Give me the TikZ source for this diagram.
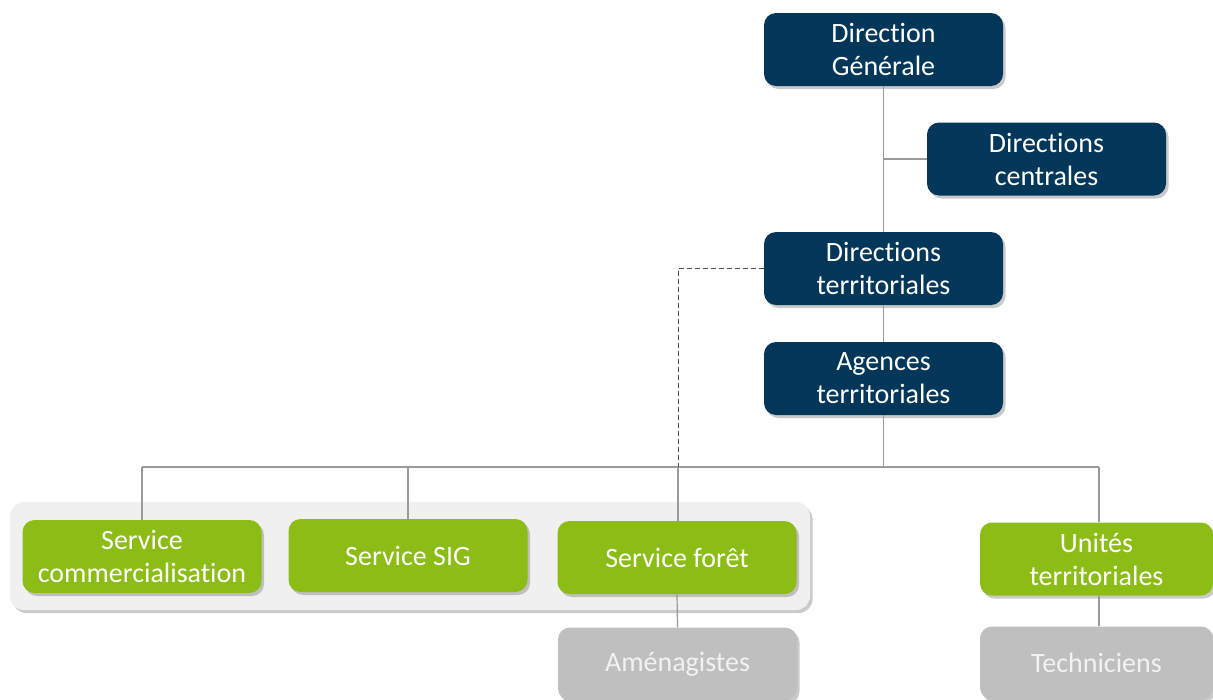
\documentclass[tikz,border=0pt]{standalone}
\usepackage{fontspec}
\setmainfont[Ligatures=NoCommon]{Carlito}
\usetikzlibrary{shadows}
\definecolor{navy}{HTML}{03375A}
\definecolor{leaf}{HTML}{8CBD16}
\definecolor{mute}{HTML}{BFBFBF}
\definecolor{panel}{HTML}{F0F0F0}
\definecolor{wire}{HTML}{9A9A9A}
\tikzset{
  box/.style={rounded corners=12pt, minimum width=239pt, minimum height=73pt,
    inner sep=0pt, align=center, text=white,
    font=\fontsize{28pt}{33pt}\selectfont,
    drop shadow={shadow xshift=2.5pt, shadow yshift=-3pt, opacity=0.35, fill=black!60}},
  navybox/.style={box, fill=navy},
  leafbox/.style={box, fill=leaf},
  mutebox/.style={box, fill=mute, text=white!95!black},
  wireline/.style={draw=wire, line width=1.2pt},
}
\begin{document}
\begin{tikzpicture}[x=1pt,y=-1pt]
\useasboundingbox (0,0) rectangle (1213,699);
\clip (0,0) rectangle (1213,699);
% panel
\path[fill=panel, rounded corners=14pt, drop shadow={shadow xshift=2.5pt, shadow yshift=-3pt, opacity=0.35, fill=black!60}] (10,502) rectangle (810,610);
% connector points
\coordinate (bus) at (883.5,467);
\coordinate (busL) at (142,467);
\coordinate (busR) at (1099,467);
\coordinate (dgc) at (884,159);
\coordinate (dashc) at (678,268.5);
\coordinate (dashb) at (678,467);
% nodes
\node[navybox] (dg) at (883.5,49.5) {Direction\\Générale};
\node[navybox] (dc) at (1046.5,159) {Directions\\centrales};
\node[navybox] (dt) at (883.5,268.5) {Directions\\territoriales};
\node[navybox] (at) at (883.5,378.5) {Agences\\territoriales};
\node[leafbox] (sc) at (142,556.5) {Service\\commercialisation};
\node[leafbox] (sig) at (408,555.5) {Service SIG};
\node[leafbox] (sf) at (677,557.5) {Service forêt};
\node[leafbox, minimum width=233pt] (ut) at (1096.5,559) {Unités\\territoriales};
\node[mutebox] (am) at (677.5,664) {Aménagistes};
\node[mutebox, minimum width=233pt] (te) at (1096.5,663) {Techniciens};
% lines
\draw[wireline] (dg.south) -- (dt.north);
\draw[wireline] (dgc) -- (dc.west);
\draw[wireline] (dt.south) -- (at.north);
\draw[wireline] (at.south) -- (bus);
\draw[wireline] (busL) -- (busR);
\draw[wireline] (busL) -- (sc.north);
\draw[wireline] (408,467) -- (sig.north);
\draw[wireline] (busR) -- (busR |- ut.north);
\draw[wireline] (dashb) -- (dashb |- sf.north);
\draw[draw=black!70, line width=1pt, dash pattern=on 5pt off 3pt] (dt.west) -- (dashc) -- (dashb);
\draw[wireline] (sf.south) -- (am.north);
\draw[wireline] (ut.south -| busR) -- (te.north -| busR);
\end{tikzpicture}
\end{document}
